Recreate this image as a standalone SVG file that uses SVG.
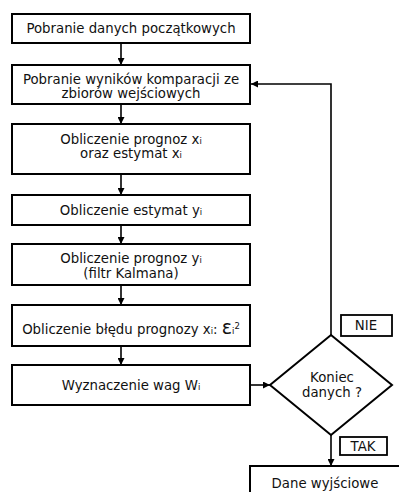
<svg xmlns="http://www.w3.org/2000/svg" width="399" height="492" viewBox="0 0 399 492">
<defs>
<marker id="ah" viewBox="0 0 10 10" refX="10" refY="5" markerWidth="7" markerHeight="7" markerUnits="userSpaceOnUse" orient="auto">
<path d="M0,0 L10,5 L0,10 z" fill="#000"/>
</marker>
<style>
.box{fill:#fff;stroke:#000;stroke-width:2}
.lbl{fill:#fff;stroke:#000;stroke-width:1.8}
text{font-family:"DejaVu Sans",Verdana,sans-serif;font-size:13.3px;fill:#111;text-anchor:middle}
.sub{font-size:8.5px}
.con{fill:none;stroke:#000;stroke-width:1.6}
</style>
</defs>
<rect width="399" height="492" fill="#fff"/>
<g id="connectors">
<path class="con" d="M121,43 V65" marker-end="url(#ah)"/>
<path class="con" d="M121,104 V124" marker-end="url(#ah)"/>
<path class="con" d="M121,174 V195" marker-end="url(#ah)"/>
<path class="con" d="M121,225 V244" marker-end="url(#ah)"/>
<path class="con" d="M121,285 V305" marker-end="url(#ah)"/>
<path class="con" d="M121,346 V365" marker-end="url(#ah)"/>
<path class="con" d="M250,385 H270" marker-end="url(#ah)"/>
<path class="con" d="M331,335 V84 H251" marker-end="url(#ah)"/>
<path class="con" d="M331,435 V466" marker-end="url(#ah)"/>
</g>
<g id="n1"><rect class="box" x="12" y="14" width="238" height="29"/><text x="131" y="33">Pobranie danych początkowych</text></g>
<g id="n2"><rect class="box" x="12" y="65" width="238" height="39"/><text x="131" y="84">Pobranie wyników komparacji ze</text><text x="131" y="98">zbiorów wejściowych</text></g>
<g id="n3"><rect class="box" x="12" y="124" width="238" height="50"/><text x="131" y="143.5">Obliczenie prognoz x<tspan class="sub">i</tspan></text><text x="131" y="158">oraz estymat x<tspan class="sub">i</tspan></text></g>
<g id="n4"><rect class="box" x="12" y="195" width="238" height="30"/><text x="131" y="215">Obliczenie estymat y<tspan class="sub">i</tspan></text></g>
<g id="n5"><rect class="box" x="12" y="244" width="238" height="41"/><text x="131" y="263">Obliczenie prognoz y<tspan class="sub">i</tspan></text><text x="131" y="278">(filtr Kalmana)</text></g>
<g id="n6"><rect class="box" x="12" y="305" width="238" height="41"/><text x="131" y="334">Obliczenie błędu prognozy x<tspan class="sub">i</tspan>: <tspan font-size="19">ε</tspan><tspan class="sub">i</tspan><tspan class="sub" dy="-5">2</tspan></text></g>
<g id="n7"><rect class="box" x="12" y="365" width="238" height="40"/><text x="131" y="390">Wyznaczenie wag W<tspan class="sub">i</tspan></text></g>
<g id="n8"><path class="box" d="M331,335 L392,385 L331,435 L270,385 Z"/><text x="332" y="382">Koniec</text><text x="332" y="397">danych ?</text></g>
<g id="l1"><rect class="lbl" x="341" y="315" width="51" height="21"/><text x="366" y="330">NIE</text></g>
<g id="l2"><rect class="lbl" x="340" y="437" width="47" height="18"/><text x="363" y="451">TAK</text></g>
<g id="n9"><rect class="box" x="250" y="466" width="160" height="40"/><text x="325" y="488">Dane wyjściowe</text></g>
</svg>
